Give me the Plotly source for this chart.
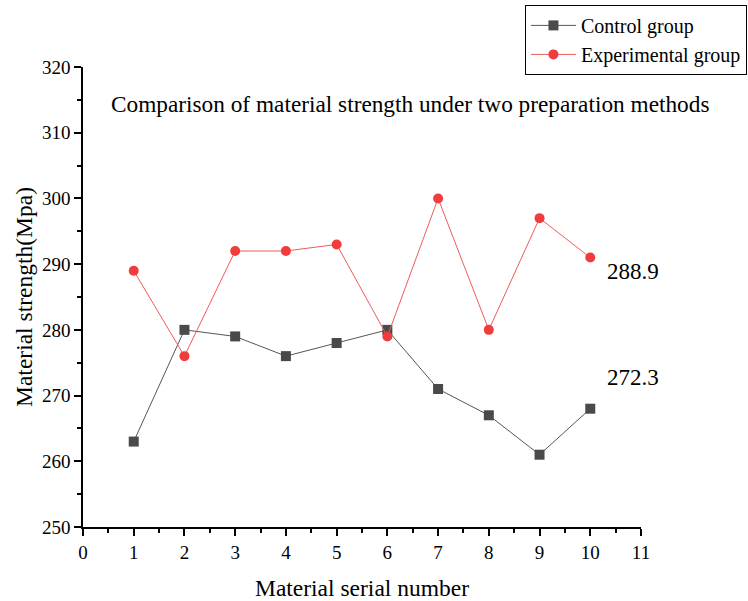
import plotly.graph_objects as go

serial = [1, 2, 3, 4, 5, 6, 7, 8, 9, 10]
control = [263, 280, 279, 276, 278, 280, 271, 267, 261, 268]
experimental = [289, 276, 292, 292, 293, 279, 300, 280, 297, 291]
control_mean = 272.3
experimental_mean = 288.9
title_text = "Comparison of material strength under two preparation methods"

FONT = "Liberation Serif"

fig = go.Figure()
fig.add_trace(go.Scatter(
    x=serial, y=control, mode="lines+markers", name="Control group",
    line=dict(color="#555555", width=1),
    marker=dict(symbol="square", size=10, color="#4a4a4a"),
))
fig.add_trace(go.Scatter(
    x=serial, y=experimental, mode="lines+markers", name="Experimental group",
    line=dict(color="#f05a5a", width=1),
    marker=dict(symbol="circle", size=10, color="#f03c3c"),
))

fig.add_annotation(x=6.45, y=314.4, xref="x", yref="y", text=title_text,
                   showarrow=False, font=dict(family=FONT, size=23.3, color="black"))
fig.add_annotation(x=10.3, y=experimental_mean, xref="x", yref="y", text=f"{experimental_mean}",
                   xanchor="left", showarrow=False, font=dict(family=FONT, size=23, color="black"))
fig.add_annotation(x=10.3, y=control_mean + 0.5, xref="x", yref="y", text=f"{control_mean}",
                   xanchor="left", showarrow=False, font=dict(family=FONT, size=23, color="black"))

axis_common = dict(
    showline=True, linecolor="black", linewidth=1.5, mirror=False,
    ticks="outside", ticklen=7, tickwidth=1.5, tickcolor="black",
    showgrid=False, zeroline=False,
    tickfont=dict(family=FONT, size=19, color="black"),
)

fig.update_layout(
    width=748, height=601,
    margin=dict(l=83, r=107, t=67, b=74, autoexpand=False),
    plot_bgcolor="white", paper_bgcolor="white",
    font=dict(family=FONT, color="black"),
    xaxis=dict(range=[0, 11], dtick=1, tick0=0,
               minor=dict(ticks="outside", ticklen=4, dtick=0.5, tickwidth=1.5, tickcolor="black"),
               title=dict(text="Material serial number", font=dict(family=FONT, size=23.5), standoff=18),
               **axis_common),
    yaxis=dict(range=[250, 320], dtick=10, tick0=250,
               minor=dict(ticks="outside", ticklen=4, dtick=5, tickwidth=1.5, tickcolor="black"),
               title=dict(text="Material strength(Mpa)", font=dict(family=FONT, size=23.5), standoff=3),
               **axis_common),
    showlegend=True,
    legend=dict(x=0.792, y=1.135, xanchor="left", yanchor="top",
                bordercolor="black", borderwidth=1, bgcolor="white",
                font=dict(family=FONT, size=20, color="black"),
                tracegroupgap=0, itemwidth=45),
)

fig.write_html("out.html", config={"displayModeBar": False},
               post_script="document.body.style.margin='0';document.body.style.padding='0';")
